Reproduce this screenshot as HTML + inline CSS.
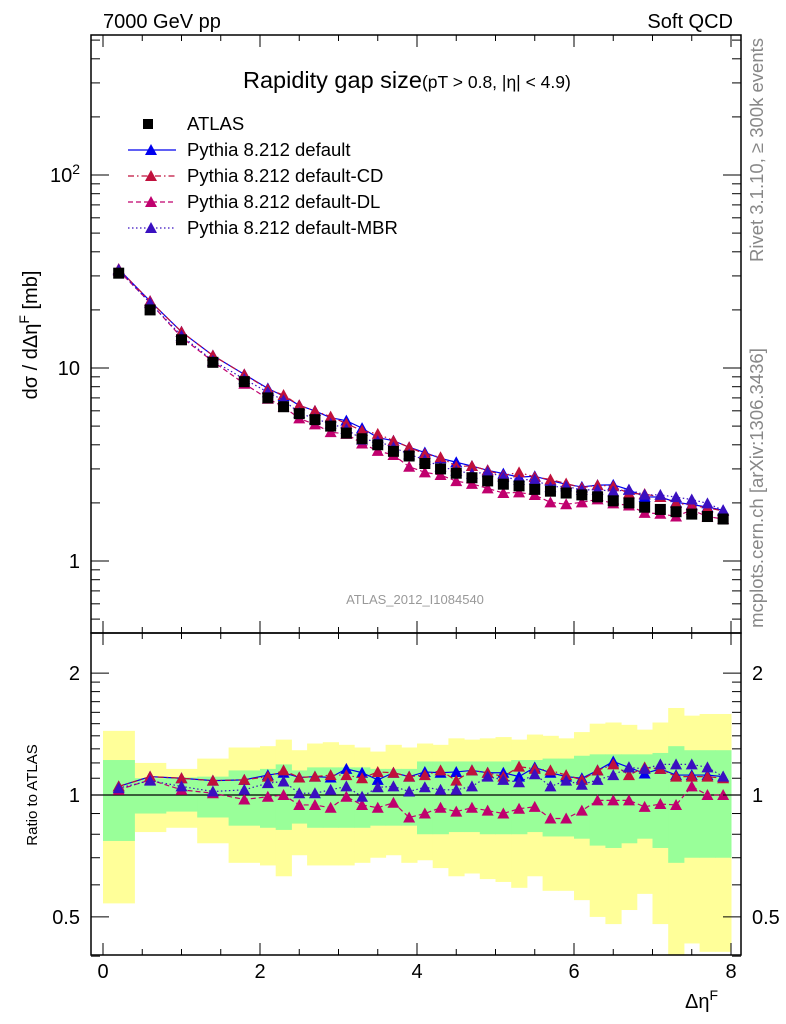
<!DOCTYPE html>
<html><head><meta charset="utf-8"><style>
html,body{margin:0;padding:0;background:#fff}
svg{display:block;font-family:"Liberation Sans",sans-serif}
</style></head><body>
<svg id="c" width="786" height="1024" xmlns="http://www.w3.org/2000/svg">
<text x="103" y="28" font-size="20">7000 GeV pp</text>
<text x="733" y="28" font-size="20" text-anchor="end">Soft QCD</text>
<text x="243" y="88" font-size="23.5">Rapidity gap size<tspan font-size="17.5">(pT &gt; 0.8, |η| &lt; 4.9)</tspan></text>
<text x="415" y="604" font-size="13" fill="#999" text-anchor="middle">ATLAS_2012_I1084540</text>
<text transform="translate(763,150) rotate(-90)" font-size="18.5" fill="#888" text-anchor="middle">Rivet 3.1.10, ≥ 300k events</text>
<text transform="translate(763,488) rotate(-90)" font-size="18.5" fill="#888" text-anchor="middle">mcplots.cern.ch [arXiv:1306.3436]</text>
<text transform="translate(37,335) rotate(-90)" font-size="20" text-anchor="middle">dσ / dΔη<tspan font-size="14" dy="-8">F</tspan><tspan dy="8"> [mb]</tspan></text>
<text transform="translate(37,795) rotate(-90)" font-size="15" text-anchor="middle">Ratio to ATLAS</text>
<text x="718" y="1008" font-size="20" text-anchor="end">Δη<tspan font-size="14" dy="-8">F</tspan></text>
<g id="g"></g>
</svg>
<script>
const edges=[0,0.4,0.8,1.2,1.6,2.0,2.2,2.4,2.6,2.8,3.0,3.2,3.4,3.6,3.8,4.0,4.2,4.4,4.6,4.8,5.0,5.2,5.4,5.6,5.8,6.0,6.2,6.4,6.6,6.8,7.0,7.2,7.4,7.6,7.8,8.0];
const atlas=[31,20,14,10.7,8.5,7.0,6.3,5.8,5.4,5.0,4.6,4.3,4.0,3.7,3.5,3.2,3.0,2.85,2.7,2.6,2.5,2.45,2.35,2.3,2.25,2.2,2.15,2.05,2.0,1.9,1.85,1.8,1.75,1.7,1.65];
const rDefault=[1.05,1.11,1.10,1.085,1.09,1.12,1.135,1.105,1.11,1.105,1.16,1.135,1.09,1.135,1.11,1.14,1.135,1.14,1.15,1.135,1.135,1.11,1.17,1.135,1.11,1.10,1.15,1.21,1.17,1.13,1.16,1.12,1.12,1.12,1.11];
const rCD=[1.05,1.11,1.10,1.085,1.09,1.11,1.15,1.105,1.11,1.12,1.12,1.10,1.14,1.135,1.11,1.12,1.15,1.085,1.15,1.135,1.11,1.175,1.16,1.15,1.12,1.09,1.15,1.19,1.12,1.17,1.16,1.11,1.11,1.11,1.10];
const rDL=[1.03,1.09,1.03,1.01,0.975,0.99,1.0,0.945,0.945,0.93,0.99,0.945,0.93,0.957,0.88,0.90,0.93,0.91,0.93,0.915,0.90,0.925,0.935,0.875,0.875,0.915,0.97,0.97,0.97,0.935,0.95,0.945,1.05,1.0,1.0];
const rMBR=[1.04,1.085,1.05,1.02,1.03,1.07,1.08,1.01,1.01,1.03,1.05,0.99,1.045,1.05,1.02,1.045,1.03,1.03,1.05,1.11,1.09,1.075,1.125,1.05,1.085,1.06,1.09,1.12,1.17,1.16,1.19,1.19,1.19,1.17,1.11];
const yelHi=[1.44,1.20,1.16,1.23,1.31,1.32,1.37,1.29,1.34,1.35,1.33,1.31,1.28,1.33,1.31,1.34,1.33,1.38,1.37,1.38,1.39,1.37,1.41,1.40,1.38,1.43,1.50,1.51,1.49,1.45,1.51,1.64,1.57,1.585,1.585];
const yelLo=[0.54,0.81,0.83,0.76,0.68,0.67,0.63,0.71,0.67,0.67,0.67,0.68,0.70,0.71,0.68,0.69,0.66,0.63,0.64,0.62,0.61,0.59,0.63,0.58,0.58,0.55,0.50,0.48,0.52,0.57,0.48,0.35,0.43,0.41,0.41];
const grnHi=[1.22,1.10,1.105,1.11,1.15,1.16,1.19,1.15,1.17,1.17,1.17,1.17,1.16,1.16,1.16,1.21,1.21,1.21,1.21,1.21,1.21,1.22,1.22,1.23,1.23,1.25,1.26,1.26,1.26,1.26,1.27,1.32,1.29,1.29,1.29];
const grnLo=[0.77,0.90,0.91,0.88,0.84,0.83,0.82,0.85,0.83,0.83,0.83,0.83,0.84,0.84,0.84,0.80,0.80,0.81,0.81,0.80,0.80,0.80,0.81,0.79,0.79,0.78,0.75,0.74,0.76,0.78,0.74,0.68,0.70,0.70,0.70];
const xTicks=[0,2,4,6,8];

const NS="http://www.w3.org/2000/svg",G=document.getElementById('g');
function el(t,a,p){const e=document.createElementNS(NS,t);for(const k in a)e.setAttribute(k,a[k]);(p||G).appendChild(e);return e;}
const L=91,R=741,T1=35,B1=633,B2=955;
const X=v=>103+v*78.5;
const Y1=v=>561-193*Math.log10(v);
const Y2=v=>795-405*Math.log10(v);
const centers=atlas.map((_,i)=>(edges[i]+edges[i+1])/2);
for(let i=0;i<atlas.length;i++){
  let e=el('rect',{x:X(edges[i]),y:Y2(yelHi[i]),width:X(edges[i+1])-X(edges[i])+0.5,height:Math.min(Y2(yelLo[i]),B2)-Y2(yelHi[i]),fill:'#ffff99'});
  
  
}
for(let i=0;i<atlas.length;i++){
  let e=el('rect',{x:X(edges[i]),y:Y2(grnHi[i]),width:X(edges[i+1])-X(edges[i])+0.5,height:Y2(grnLo[i])-Y2(grnHi[i]),fill:'#99ff99'});
  
  
}
el('line',{x1:L,x2:R,y1:Y2(1),y2:Y2(1),stroke:'#000','stroke-width':1.3});
const series=[
 {n:'default',r:rDefault,c:'#0000ee',d:''},
 {n:'default-cd',r:rCD,c:'#c0103c',d:'6,3,1.5,3'},
 {n:'default-dl',r:rDL,c:'#c0006e',d:'5,3'},
 {n:'default-mbr',r:rMBR,c:'#3a10c0',d:'1.5,2.5'}];
function tri(x,y,c,name){const e=el('path',{d:`M${x-6},${y+5}L${x+6},${y+5}L${x},${y-6}Z`,fill:c});
  
  }
series.forEach(s=>{
  const main=atlas.map((v,i)=>v*s.r[i]);
  let p1=el('polyline',{points:centers.map((c,i)=>X(c)+','+Y1(main[i])).join(' '),fill:'none',stroke:s.c,'stroke-width':1.2,'stroke-dasharray':s.d});
  
  
  let p2=el('polyline',{points:centers.map((c,i)=>X(c)+','+Y2(s.r[i])).join(' '),fill:'none',stroke:s.c,'stroke-width':1.2,'stroke-dasharray':s.d});
  
  
  centers.forEach((c,i)=>{tri(X(c),Y1(main[i]),s.c,'point-'+s.n);tri(X(c),Y2(s.r[i]),s.c,'ratio-point-'+s.n);});
});
centers.forEach((c,i)=>{
  const e=el('rect',{x:X(c)-5.5,y:Y1(atlas[i])-5.5,width:11,height:11,fill:'#000'});
  
  
});
[[T1,B1],[B1,B2]].forEach(([a,b])=>el('rect',{x:L,y:a,width:R-L,height:b-a,fill:'none',stroke:'#000','stroke-width':1.5}));
for(let v=0;v<=8.01;v+=0.5){const maj=Math.abs(v-Math.round(v/2)*2)<1e-6,len=maj?12:6;
  [T1,B1].forEach(t=>el('line',{x1:X(v),x2:X(v),y1:t,y2:t+len,stroke:'#000'}));
  [B1,B2].forEach(b=>el('line',{x1:X(v),x2:X(v),y1:b,y2:b-len,stroke:'#000'}));}
xTicks.forEach(v=>{const t=el('text',{x:X(v),y:978,'font-size':20,'text-anchor':'middle'});t.textContent=v;
  
  });
for(let d=-1;d<=2;d++)for(let m=1;m<=9;m++){const v=m*Math.pow(10,d),y=Y1(v);if(y<T1||y>B1)continue;const len=m==1?18:9;
  el('line',{x1:L,x2:L+len,y1:y,y2:y,stroke:'#000'});el('line',{x1:R,x2:R-len,y1:y,y2:y,stroke:'#000'});}
[['1',1],['10',10]].forEach(([s,v])=>{const t=el('text',{x:80,y:Y1(v)+7,'font-size':20,'text-anchor':'end'});t.textContent=s;
  
  });
{const t=el('text',{x:80,y:Y1(100)+7,'font-size':20,'text-anchor':'end'});t.innerHTML='10<tspan font-size="14" dy="-8">2</tspan>';
  
  }
[0.4,0.5,0.6,0.7,0.8,0.9,1,1.1,1.2,1.3,1.4,1.5,1.6,1.7,1.8,1.9,2].forEach(v=>{const y=Y2(v),maj=[0.5,1,2].includes(v),len=maj?18:9;
  el('line',{x1:L,x2:L+len,y1:y,y2:y,stroke:'#000'});el('line',{x1:R,x2:R-len,y1:y,y2:y,stroke:'#000'});});
[['2',2],['1',1],['0.5',0.5]].forEach(([s,v])=>{[[80,'end'],[752,'start']].forEach(([x,a])=>{const t=el('text',{x:x,y:Y2(v)+7,'font-size':20,'text-anchor':a});t.textContent=s;
  
  });});
const leg=[['ATLAS',null],['Pythia 8.212 default',series[0]],['Pythia 8.212 default-CD',series[1]],['Pythia 8.212 default-DL',series[2]],['Pythia 8.212 default-MBR',series[3]]];
leg.forEach(([lab,s],i)=>{const y=124+i*26;
  const g=el('g',{});
  
  
  if(!s)el('rect',{x:148-5,y:y-5,width:10,height:10,fill:'#000'},g);
  else{el('line',{x1:128,x2:176,y1:y,y2:y,stroke:s.c,'stroke-width':1.2,'stroke-dasharray':s.d},g);
    el('path',{d:`M${151-6},${y+5}L${151+6},${y+5}L151,${y-6}Z`,fill:s.c},g);}
  const t=el('text',{x:187,y:y+6,'font-size':18.5},g);t.textContent=lab;});
</script>
</body></html>
